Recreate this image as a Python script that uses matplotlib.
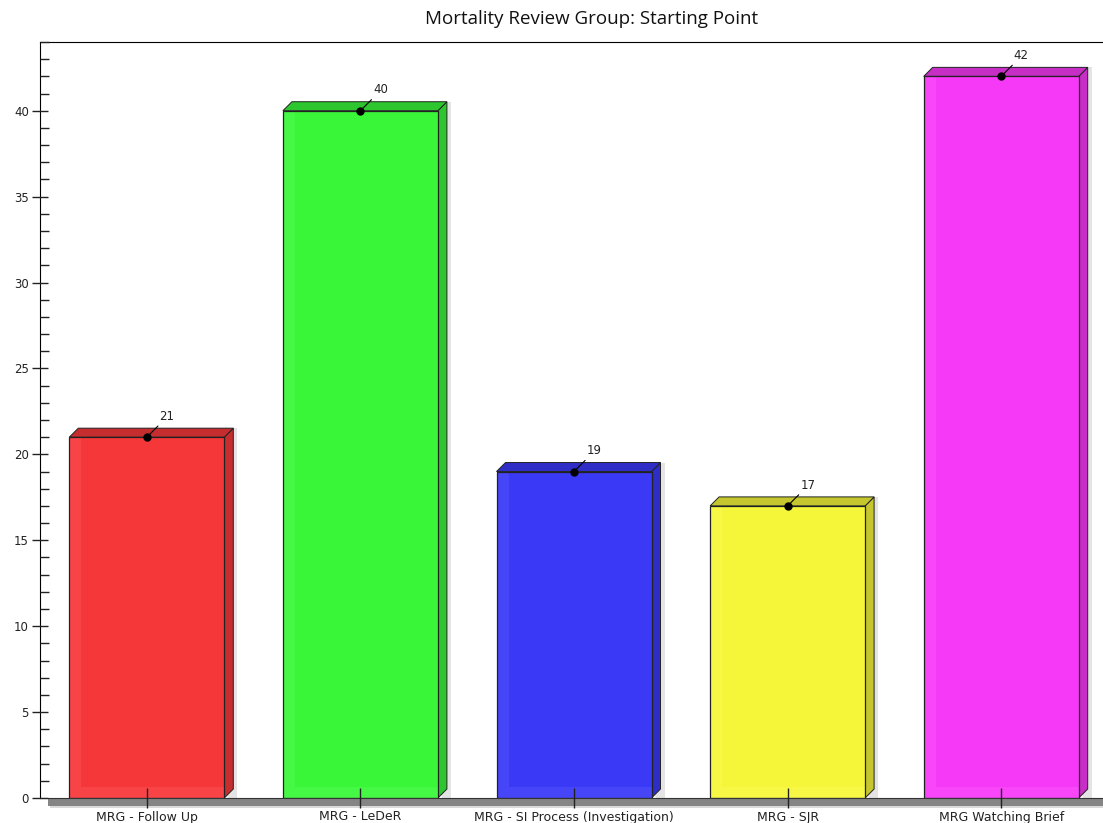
import matplotlib
matplotlib.use("Agg")
import matplotlib.pyplot as plt
from matplotlib.patches import Polygon, Rectangle
from matplotlib.ticker import MultipleLocator
import matplotlib.colors as mcolors

# ── Data ──────────────────────────────────────────────────────────────────────
TITLE      = "Mortality Review Group: Starting Point"
categories = ["MRG - Follow Up", "MRG - LeDeR", "MRG - SI Process (Investigation)",
              "MRG - SJR", "MRG Watching Brief"]
values     = [21, 40, 19, 17, 42]
face_cols  = ["#F8383B", "#3AF83A", "#3A3AF8", "#F7F73A", "#F83AF8"]

# ── Figure / axes geometry (pixels of a 1103x823 canvas) ─────────────────────
W, H = 1103, 823
fig = plt.figure(figsize=(W / 100, H / 100), dpi=100)
ax_l, ax_r, ax_t, ax_b = 40, 1108, 42, 798
ax = fig.add_axes([ax_l / W, (H - ax_b) / H, (ax_r - ax_l) / W, (ax_b - ax_t) / H])

XMIN, XMAX, YMIN, YMAX = -0.5, len(values) - 0.5, 0, 44
ax.set_xlim(XMIN, XMAX)
ax.set_ylim(YMIN, YMAX)

px_x = (ax_r - ax_l) / (XMAX - XMIN)   # pixels per x unit
px_y = (ax_b - ax_t) / (YMAX - YMIN)   # pixels per y unit
dx, dy = 9 / px_x, 9 / px_y            # 3D depth in data units
bw = 155 / px_x                        # bar front width


def shade(c, f):
    r, g, b = mcolors.to_rgb(c)
    return (r * f, g * f, b * f)


def lighten(c, f):
    r, g, b = mcolors.to_rgb(c)
    return (r + (1 - r) * f, g + (1 - g) * f, b + (1 - b) * f)


# floor strip under the bars
ax.add_patch(Polygon([(XMIN + 8 / px_x, 0), (XMAX + 1, 0), (XMAX + 1, -8 / px_y),
                      (XMIN + 8 / px_x, -8 / px_y)], closed=True,
                     facecolor="#858585", edgecolor="none", clip_on=False, zorder=1))
ax.add_patch(Polygon([(XMIN + 10 / px_x, -8 / px_y), (XMAX + 1, -8 / px_y),
                      (XMAX + 1, -10 / px_y), (XMIN + 10 / px_x, -10 / px_y)],
                     closed=True, facecolor="#dadada", edgecolor="none",
                     clip_on=False, zorder=1))

for i, (v, c) in enumerate(zip(values, face_cols)):
    x0, x1 = i - bw / 2, i + bw / 2
    # soft shadow behind
    ax.add_patch(Polygon([(x0 + dx + 3 / px_x, v + dy), (x1 + dx + 4 / px_x, v + dy),
                          (x1 + dx + 4 / px_x, 0), (x1 + 4 / px_x, 0)], closed=True,
                         facecolor="#e4e4e4", edgecolor="none", zorder=2))
    # side face
    ax.add_patch(Polygon([(x1, 0), (x1 + dx, dy), (x1 + dx, v + dy), (x1, v)], closed=True,
                         facecolor=shade(c, 0.8), edgecolor="#222222", lw=0.7, zorder=3))
    # top face
    ax.add_patch(Polygon([(x0, v), (x0 + dx, v + dy), (x1 + dx, v + dy), (x1, v)],
                         closed=True, facecolor=shade(c, 0.8), edgecolor="#222222",
                         lw=0.7, zorder=3))
    # front face: lighter rim and slightly darker inner panel
    ax.add_patch(Rectangle((x0, 0), bw, v, facecolor=lighten(c, 0.06),
                           edgecolor="none", zorder=3))
    ax.add_patch(Rectangle((x0 + 12 / px_x, 11 / px_y), bw - 12 / px_x, v - 11 / px_y,
                           facecolor=shade(c, 0.99), edgecolor="none", zorder=3))
    ax.add_patch(Rectangle((x0, 0), bw, v, facecolor="none",
                           edgecolor="#222222", lw=0.9, zorder=4))
    # value marker + leader + label
    ax.plot(i, v, "o", color="black", ms=5, zorder=6, clip_on=False)
    ax.annotate("", xy=(i, v), xytext=(8, 8), textcoords="offset points",
                arrowprops=dict(arrowstyle="-", lw=0.8, color="black",
                                shrinkA=0, shrinkB=0), zorder=6)
    ax.annotate(str(v), xy=(i, v), xytext=(14.5, 15), textcoords="offset points",
                ha="center", va="center", fontsize=8.5, color="#222222", zorder=6)

# ── Axes styling ──────────────────────────────────────────────────────────────
ax.spines["right"].set_visible(False)
ax.spines["bottom"].set_color("#333333")
ax.spines["bottom"].set_zorder(5)
ax.xaxis.set_zorder(6)
ax.yaxis.set_zorder(6)

ax.set_xticks(range(len(values)))
ax.set_xticklabels(categories, fontsize=9, color="#222222")
ax.tick_params(axis="x", direction="inout", length=15, width=1, pad=1.5, colors="#222222")

ax.yaxis.set_major_locator(MultipleLocator(5))
ax.yaxis.set_minor_locator(MultipleLocator(1))
ax.tick_params(axis="y", which="major", direction="inout", length=12, width=1,
               labelsize=8.5, pad=2, colors="#222222")
ax.tick_params(axis="y", which="minor", direction="in", length=6.5, width=1,
               colors="#222222")

fig.text(592 / W, 1 - 19 / H, TITLE, ha="center", va="center", fontsize=13.5,
         family="Open Sans", color="#111111")

fig.savefig("out.png", dpi=100)
